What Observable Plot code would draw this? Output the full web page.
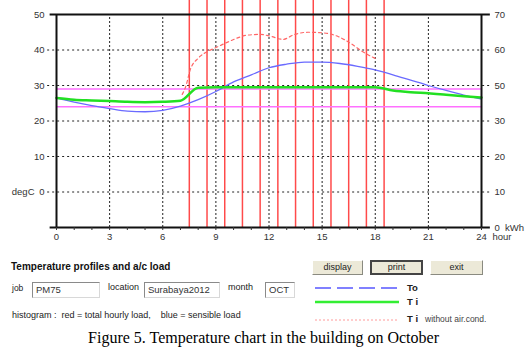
<!DOCTYPE html>
<html><head><meta charset="utf-8">
<script src="https://cdn.jsdelivr.net/npm/d3@7"></script>
<script src="https://cdn.jsdelivr.net/npm/@observablehq/plot@0.6"></script>
<style>
body{margin:0;background:#fff;}
#wrap{position:relative;width:527px;height:351px;overflow:hidden;font-family:"Liberation Sans",Arial,sans-serif;color:#222;}
.abs{position:absolute;white-space:pre;line-height:1;}
.box{position:absolute;box-sizing:border-box;background:#fff;border-top:1px solid #8a8a8a;border-left:1px solid #8a8a8a;border-right:1px solid #d8d8d8;border-bottom:1px solid #d8d8d8;font-size:9.5px;line-height:14px;padding-left:3px;color:#333;}
.btn{position:absolute;box-sizing:border-box;height:15px;background:#ece9d8;border-top:1px solid #fff;border-left:1px solid #fff;border-right:1px solid #8a8a80;border-bottom:1px solid #8a8a80;font-size:9px;line-height:13px;text-align:center;color:#222;}
</style></head><body><div id="wrap"><div id="chart"></div>
<div class="abs" style="left:11px;top:262px;font-size:10px;font-weight:bold;color:#111;">Temperature profiles and a/c load</div>
<div class="abs" style="left:12px;top:284px;font-size:8.5px;">job</div>
<div class="box" style="left:32px;top:282px;width:68px;height:16px;">PM75</div>
<div class="abs" style="left:108px;top:283px;font-size:9px;">location</div>
<div class="box" style="left:144px;top:282px;width:76px;height:16px;">Surabaya2012</div>
<div class="abs" style="left:228px;top:283px;font-size:9px;">month</div>
<div class="box" style="left:265px;top:282px;width:30px;height:16px;">OCT</div>
<div class="abs" style="left:12px;top:311px;font-size:9px;">histogram :  red = total hourly load,    blue = sensible load</div>
<div class="btn" style="left:312px;top:260px;width:51px;">display</div>
<div class="btn" style="left:370px;top:260px;width:53px;border:2px solid #444;line-height:11px;">print</div>
<div class="btn" style="left:430px;top:260px;width:53px;">exit</div>
<svg style="position:absolute;left:0;top:0" width="527" height="351">
<line x1="315" x2="399" y1="288" y2="288" stroke="#8080ff" stroke-width="2" stroke-dasharray="16,6"/>
<line x1="315" x2="399" y1="302" y2="302" stroke="#33ee33" stroke-width="2.5"/>
<line x1="315" x2="399" y1="320" y2="320" stroke="#ff9a9a" stroke-width="1" stroke-dasharray="2,2"/>
</svg>
<div class="abs" style="left:407px;top:283px;font-size:9.5px;font-weight:bold;color:#222;">To</div>
<div class="abs" style="left:407px;top:297px;font-size:9.5px;font-weight:bold;color:#222;">T i</div>
<div class="abs" style="left:407px;top:314px;font-size:9.5px;font-weight:bold;color:#222;">T i</div>
<div class="abs" style="left:425px;top:315px;font-size:8.5px;color:#444;">without air.cond.</div>
<div class="abs" style="left:0;top:330px;width:527px;text-align:center;font-family:'Liberation Serif','Times New Roman',serif;font-size:16px;color:#000;">Figure 5. Temperature chart in the building on October</div>
</div>
<script>
const hours = [0,1,2,3,4,5,6,7,8,9,10,11,12,13,14,15,16,17,18,19,20,21,22,23,24];
const toValues = [26.5,25.3,24.3,23.5,22.8,22.6,23.0,24.2,26.0,28.3,31.0,33.0,35.0,36.0,36.6,36.6,36.2,35.4,34.4,33.0,31.5,30.0,28.6,27.3,26.2];
const tiValues = [26.5,26.0,25.8,25.6,25.4,25.3,25.4,25.7,29.4,29.5,29.5,29.5,29.5,29.5,29.5,29.5,29.5,29.5,29.5,28.6,28.1,27.8,27.4,27.0,26.6];
const tiNoAcHours = [7.1,7.3,7.55,8,8.5,9.1,9.7,10.8,11.5,12,12.8,13.4,14.2,15.1,15.9,16.6,17.3,18.0];
const tiNoAcValues = [27.5,29.7,34.4,37.7,39.5,40.9,42.3,44.2,44.4,44.0,43.0,44.3,45.0,44.8,43.8,41.9,39.5,37.6];
const loadHours = [7.5,8.5,9.5,10.5,11.5,12.5,13.5,14.5,15.5,16.5,17.5,18.5];
const comfortBounds = [29, 24];
const xTickLabels = [0,3,6,9,12,15,18,21,24];
const leftTicks = [0,10,20,30,40,50];
const rightTickPositions = [-10,0,10,20,30,40,50];
const rightTickLabels = ["0\u00a0\u00a0kWh","10","20","30","50","60","70"];
const rightLabelFor = new Map(rightTickPositions.map((p,i)=>[p, rightTickLabels[i]]));

const chart = Plot.plot({
  width: 527, height: 250,
  marginTop: 14, marginBottom: 23, marginLeft: 56, marginRight: 46,
  x: {domain: [0,24]},
  y: {domain: [-10,50]},
  style: {fontFamily: "'Liberation Sans', Arial, sans-serif", fontSize: "9.5px", color: "#333", background: "transparent", overflow: "visible"},
  marks: [
    Plot.ruleY([0,10,20,30,40], {x1: -0.5, x2: 24.5, stroke: "#222", strokeWidth: 1, strokeDasharray: "2,3"}),
    Plot.ruleX([3,6,9,12,15,18,21], {y1: -10, y2: 50, stroke: "#222", strokeWidth: 1, strokeDasharray: "2,2"}),
    Plot.ruleX(loadHours, {y1: -10, y2: 54, stroke: "#ff2a2a", strokeWidth: 1.5, strokeOpacity: 0.85}),
    Plot.ruleY(comfortBounds, {x1: 0, x2: 24, stroke: "#ff70ff", strokeWidth: 1.5}),
    Plot.lineY(tiNoAcValues, {x: tiNoAcHours, stroke: "#ff6666", strokeWidth: 1.2, strokeDasharray: "3,3", curve: "monotone-x"}),
    Plot.lineY(toValues, {x: hours, stroke: "#6a6aff", strokeWidth: 1.3, curve: "monotone-x"}),
    Plot.lineY(tiValues, {x: hours, stroke: "#22e022", strokeWidth: 2.5, curve: "monotone-x"}),
    Plot.ruleY([50, -10], {x1: -0.36, x2: 24.5, stroke: "#111", strokeWidth: 2}),
    Plot.ruleX([0, 24], {y1: -10, y2: 50, stroke: "#111", strokeWidth: 2}),
    Plot.axisX(hours, {tickSize: 3, tickFormat: () => "", label: null, stroke: "#333"}),
    Plot.axisX(xTickLabels, {tickSize: 0, tickPadding: 6, label: null}),
    Plot.axisY(leftTicks, {tickSize: 0, tickPadding: 12, label: null}),
    Plot.axisY(rightTickPositions, {anchor: "right", tickSize: 0, tickPadding: 13, label: null, tickFormat: d => rightLabelFor.get(d)}),
    Plot.text(["degC"], {x: 0, y: 0, dx: -22, textAnchor: "end", fill: "#333"}),
    Plot.text(["hour"], {x: 24, y: -10, dx: 11, dy: 6, textAnchor: "start", lineAnchor: "top", fill: "#333"})
  ]
});
document.getElementById("chart").appendChild(chart);
</script>
</body></html>
